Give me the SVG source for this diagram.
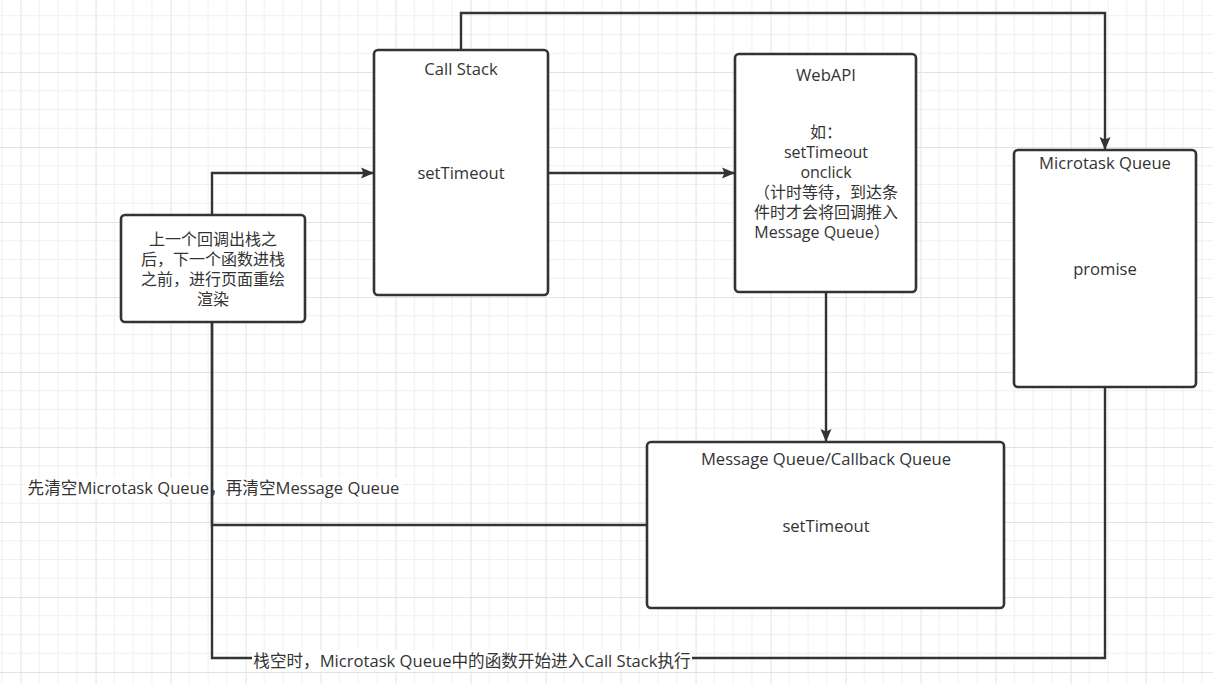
<svg xmlns="http://www.w3.org/2000/svg" width="1213" height="684" viewBox="0 0 1213 684">
<defs>
<pattern id="grid" patternUnits="userSpaceOnUse" x="20.6" y="-3" width="75" height="75">
<rect width="75" height="75" fill="#ffffff"/>
<path d="M18.75,0V75M37.5,0V75M56.25,0V75M0,18.75H75M0,37.5H75M0,56.25H75" stroke="#f0f0f0" stroke-width="1" fill="none"/>
<path d="M0.5,0V75M0,0.5H75" stroke="#e3e3e3" stroke-width="1" fill="none"/>
</pattern>
<marker id="arr" markerUnits="userSpaceOnUse" markerWidth="14" markerHeight="14" viewBox="0 0 14 14" refX="13" refY="7" orient="auto">
<path d="M0,1.5 L13,7 L0,12.5 L2.5,7 Z" fill="#333333"/>
</marker>
<style>
.box{fill:#ffffff;stroke:#333333;stroke-width:2.6}
.t{font-family:"Open Sans","Noto Sans CJK SC",sans-serif;font-size:16.6px;fill:#333333;text-anchor:middle;dominant-baseline:central}
.m{font-size:16px}
.e{fill:none;stroke:#333333;stroke-width:2.4}
.lb{fill:#ffffff}
</style>
</defs>
<rect width="1213" height="684" fill="url(#grid)"/>
<g id="label-bg-top"><rect class="lb" x="26" y="478" width="376" height="21"/></g>
<g id="connectors">
<path class="e" d="M461,50 V13 H1105 V150" marker-end="url(#arr)"/>
<path class="e" d="M548,173 H735" marker-end="url(#arr)"/>
<path class="e" d="M826,292 V442" marker-end="url(#arr)"/>
<path class="e" d="M212,215 V173 H374" marker-end="url(#arr)"/>
<path class="e" d="M647,525 H212 V322"/>
<path class="e" d="M1105,387 V658 H212 V322"/>
<rect class="lb" x="252" y="650" width="440" height="21"/>
<text class="t" x="472" y="660">栈空时，Microtask Queue中的函数开始进入Call Stack执行</text>
<text class="t" x="213.5" y="487">先清空Microtask Queue，再清空Message Queue</text>
</g>
<g id="call-stack">
<rect class="box" x="374" y="50" width="174" height="245" rx="4"/>
<text class="t" x="461" y="68">Call Stack</text>
<text class="t" x="461" y="172">setTimeout</text>
</g>
<g id="webapi">
<rect class="box" x="735" y="54" width="181" height="238" rx="4"/>
<text class="t" x="826" y="74">WebAPI</text>
<text class="t m" x="826" y="132">如：</text>
<text class="t m" x="826" y="152">setTimeout</text>
<text class="t m" x="826" y="172">onclick</text>
<text class="t m" x="826" y="192">（计时等待，到达条</text>
<text class="t m" x="826" y="212">件时才会将回调推入</text>
<text class="t m" x="822" y="232">Message Queue）</text>
</g>
<g id="microtask-queue">
<rect class="box" x="1014" y="150" width="182" height="237" rx="4"/>
<text class="t" x="1105" y="162">Microtask Queue</text>
<text class="t" x="1105" y="268">promise</text>
</g>
<g id="message-queue">
<rect class="box" x="647" y="442" width="357" height="166" rx="4"/>
<text class="t" x="826" y="458">Message Queue/Callback Queue</text>
<text class="t" x="826" y="525">setTimeout</text>
</g>
<g id="render-note">
<rect class="box" x="121" y="215" width="184" height="107" rx="4"/>
<text class="t m" x="213" y="239">上一个回调出栈之</text>
<text class="t m" x="213" y="259">后，下一个函数进栈</text>
<text class="t m" x="213" y="279">之前，进行页面重绘</text>
<text class="t m" x="213" y="299">渲染</text>
</g>
</svg>
